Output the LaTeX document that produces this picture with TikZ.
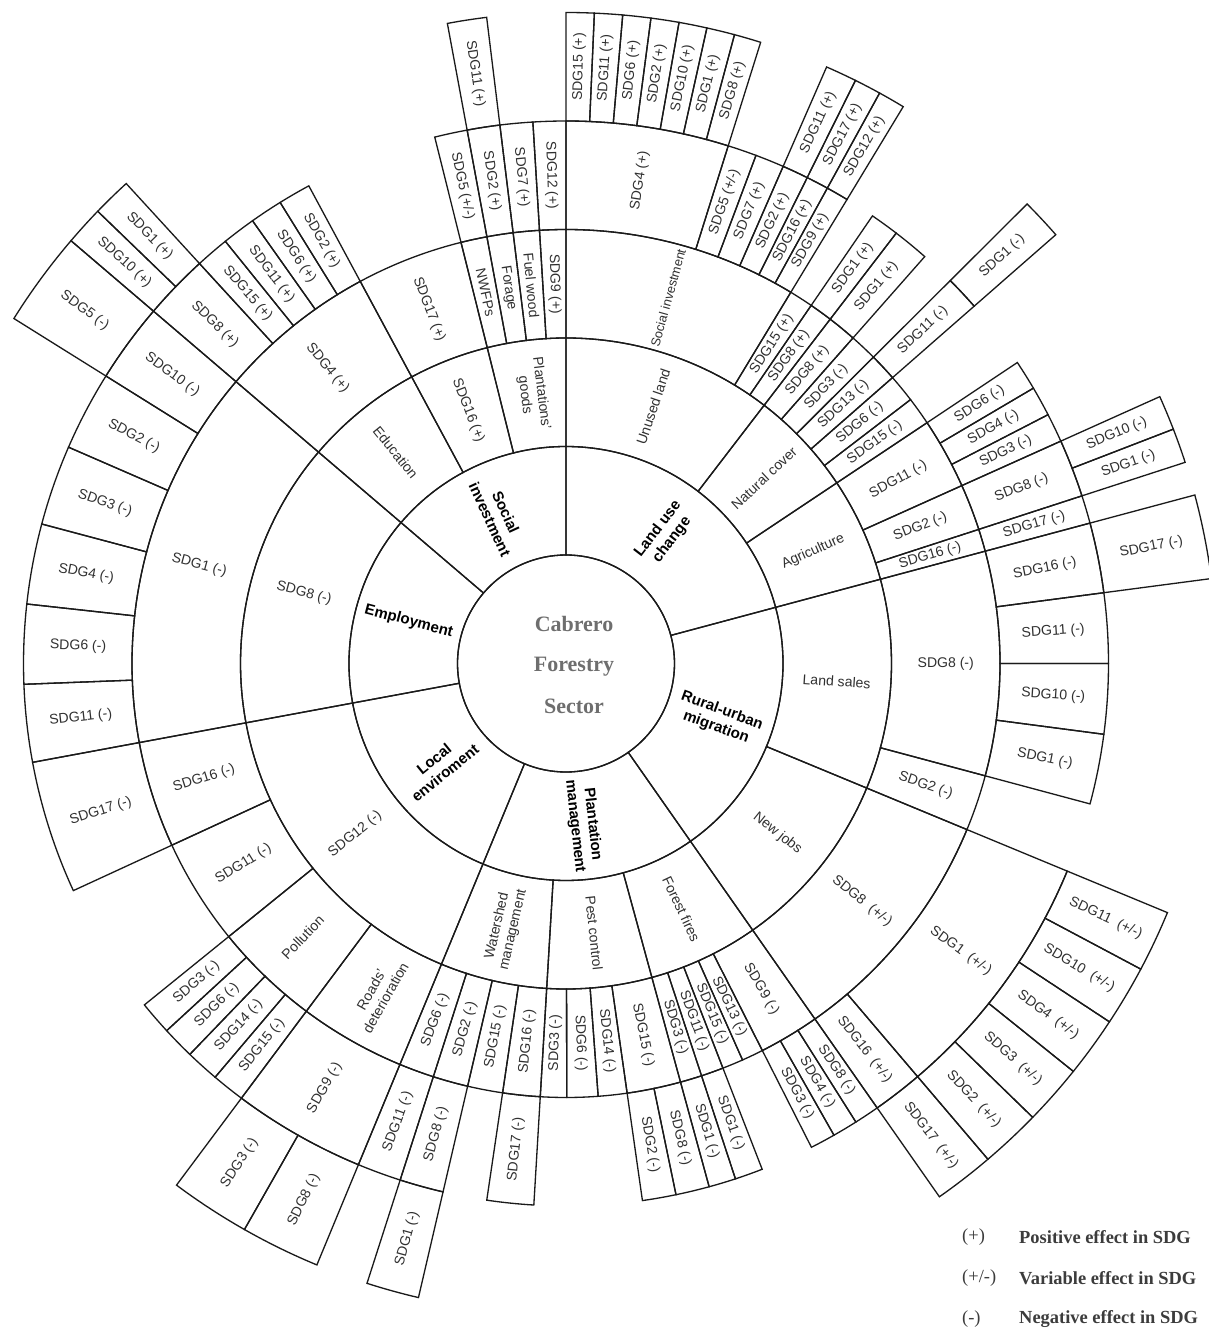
\documentclass[tikz,border=0pt]{standalone}
\usepackage{fontspec}
\setmainfont{Liberation Sans}
\newfontfamily\serifface{Liberation Serif}
\usepackage{tikz}
\definecolor{RingInk}{HTML}{1A1A1A}
\definecolor{LabelInk}{HTML}{303030}
\definecolor{CoreInk}{HTML}{6E6E6E}
\definecolor{KeyInk}{HTML}{3C3C3C}
\tikzset{
  wheel/.style={x=0.02cm,y=0.02cm,font=\fontsize{8}{9.4}\selectfont,text=LabelInk},
  ringline/.style={draw=RingInk,line width=0.75pt},
  sdg/.style={inner sep=0pt,align=center},
  narrow/.style={sdg,font=\fontsize{7.3}{8.6}\selectfont},
  topic/.style={sdg,font=\fontsize{8.6}{10}\selectfont\bfseries,text=black},
  core/.style={font=\fontsize{12.5}{14}\selectfont\serifface\bfseries,text=CoreInk},
  keysym/.style={font=\fontsize{10.5}{12}\selectfont\serifface,text=KeyInk,anchor=west},
  keytext/.style={keysym,font=\fontsize{10.5}{12}\selectfont\serifface\bfseries},
}
\newcounter{cellno}
\newcommand\sdgcell[5][sdg]{%
  \pgfmathsetmacro\cellri{108.5*#2}%
  \pgfmathsetmacro\cellro{108.5*(#2+1)}%
  \pgfmathsetmacro\cellrm{108.5*(#2+0.5)}%
  \pgfmathsetmacro\cellam{(#3+#4)/2}%
  \pgfmathsetmacro\cellrot{cos(\cellam)<0 ? \cellam+180 : \cellam}%
  \stepcounter{cellno}%
  \draw[ringline] (#3:\cellri) arc[start angle=#3,end angle=#4,radius=\cellri]
    -- (#4:\cellro) arc[start angle=#4,end angle=#3,radius=\cellro] -- cycle;
  \node[#1,rotate=\cellrot] (cell\arabic{cellno}) at (\cellam:\cellrm) {#5};
}

\begin{document}
\begin{tikzpicture}[wheel]
  \useasboundingbox (-566,-665.5) rectangle (642,663.5);

  \draw[ringline] (0,0) circle[radius=108.5];
  \node[core] (cabrero) at (8,40) {Cabrero};
  \node[core] (forestry) at (8,-3) {Forestry};
  \node[core] (sector) at (8,-43) {Sector};

  \sdgcell[topic]{1}{90}{139.5}{Social\\investment}
  \sdgcell[topic]{1}{15}{90}{Land use\\change}
  \sdgcell[topic]{1}{-55}{15}{Rural-urban\\migration}
  \sdgcell[topic]{1}{-112.5}{-55}{Plantation\\management}
  \sdgcell[topic]{1}{-169.5}{-112.5}{Local\\enviroment}
  \sdgcell[topic]{1}{139.5}{190.5}{Employment}

  \sdgcell{2}{90}{104}{Plantations'\\goods}
  \sdgcell{2}{104}{118.3}{SDG16 (+)}
  \sdgcell{2}{118.3}{139.5}{Education}
  \sdgcell{2}{52.5}{90}{Unused land}
  \sdgcell{2}{33.7}{52.5}{Natural cover}
  \sdgcell{2}{15}{33.7}{Agriculture}
  \sdgcell{2}{-22.5}{15}{Land sales}
  \sdgcell{2}{-55}{-22.5}{New jobs}
  \sdgcell{2}{-74.7}{-55}{Forest fires}
  \sdgcell{2}{-93.4}{-74.7}{Pest control}
  \sdgcell{2}{-112.5}{-93.4}{Watershed\\management}
  \sdgcell{2}{-169.5}{-112.5}{SDG12 (-)}
  \sdgcell{2}{139.5}{190.5}{SDG8 (-)}

  \sdgcell{3}{90}{93.5}{SDG9 (+)}
  \sdgcell{3}{93.5}{97}{Fuel wood}
  \sdgcell{3}{97}{100.5}{Forage}
  \sdgcell{3}{100.5}{104}{NWFPs}
  \sdgcell{3}{104}{118.3}{SDG17 (+)}
  \sdgcell{3}{118.3}{139.5}{SDG4 (+)}
  \sdgcell{3}{139.5}{190.5}{SDG1 (-)}
  \sdgcell[narrow]{3}{58.8}{90}{Social investment}
  \sdgcell{3}{55.6}{58.8}{SDG15 (+)}
  \sdgcell{3}{52.5}{55.6}{SDG8 (+)}
  \sdgcell{3}{48.6}{52.5}{SDG8 (+)}
  \sdgcell{3}{44.9}{48.6}{SDG3 (-)}
  \sdgcell{3}{41.2}{44.9}{SDG13 (-)}
  \sdgcell{3}{37.45}{41.2}{SDG6 (-)}
  \sdgcell{3}{33.7}{37.45}{SDG15 (-)}
  \sdgcell{3}{24.2}{33.7}{SDG11 (-)}
  \sdgcell{3}{18}{24.2}{SDG2 (-)}
  \sdgcell{3}{15}{18}{SDG16 (-)}
  \sdgcell{3}{-15}{15}{SDG8 (-)}
  \sdgcell{3}{-22.5}{-15}{SDG2 (-)}
  \sdgcell{3}{-55}{-22.5}{SDG8~~(+/-)}
  \sdgcell{3}{-63.1}{-55}{SDG9 (-)}
  \sdgcell{3}{-66}{-63.1}{SDG13 (-)}
  \sdgcell{3}{-68.8}{-66}{SDG15 (-)}
  \sdgcell{3}{-71.8}{-68.8}{SDG11 (-)}
  \sdgcell{3}{-74.7}{-71.8}{SDG3 (-)}
  \sdgcell{3}{-81.9}{-74.7}{SDG15 (-)}
  \sdgcell{3}{-85.75}{-81.9}{SDG14 (-)}
  \sdgcell{3}{-89.9}{-85.75}{SDG6 (-)}
  \sdgcell{3}{-93.4}{-89.9}{SDG3 (-)}
  \sdgcell{3}{-98.4}{-93.4}{SDG16 (-)}
  \sdgcell{3}{-103.1}{-98.4}{SDG15 (-)}
  \sdgcell{3}{-107.8}{-103.1}{SDG2 (-)}
  \sdgcell{3}{-112.5}{-107.8}{SDG6 (-)}
  \sdgcell{3}{-126.75}{-112.5}{Roads'\\deterioration}
  \sdgcell{3}{-141}{-126.75}{Pollution}
  \sdgcell{3}{-155.25}{-141}{SDG11 (-)}
  \sdgcell{3}{-169.5}{-155.25}{SDG16 (-)}

  \sdgcell{4}{90}{93.5}{SDG12 (+)}
  \sdgcell{4}{93.5}{97}{SDG7 (+)}
  \sdgcell{4}{97}{100.5}{SDG2 (+)}
  \sdgcell{4}{100.5}{104}{SDG5 (+/-)}
  \sdgcell{4}{118.3}{121.8}{SDG2 (+)}
  \sdgcell{4}{121.8}{125.3}{SDG6 (+)}
  \sdgcell{4}{125.3}{128.9}{SDG11 (+)}
  \sdgcell{4}{128.9}{132.5}{SDG15 (+)}
  \sdgcell{4}{132.5}{139.5}{SDG8 (+)}
  \sdgcell{4}{139.5}{148}{SDG10 (-)}
  \sdgcell{4}{148}{156.5}{SDG2 (-)}
  \sdgcell{4}{156.5}{165.1}{SDG3 (-)}
  \sdgcell{4}{165.1}{173.7}{SDG4 (-)}
  \sdgcell{4}{173.7}{182.2}{SDG6 (-)}
  \sdgcell{4}{182.2}{190.5}{SDG11 (-)}
  \sdgcell{4}{72.6}{90}{SDG4 (+)}
  \sdgcell{4}{69.5}{72.6}{SDG5 (+/-)}
  \sdgcell{4}{66.4}{69.5}{SDG7 (+)}
  \sdgcell{4}{63.6}{66.4}{SDG2 (+)}
  \sdgcell{4}{61.2}{63.6}{SDG16 (+)}
  \sdgcell{4}{58.8}{61.2}{SDG9 (+)}
  \sdgcell{4}{52.5}{55.6}{SDG1 (+)}
  \sdgcell{4}{48.6}{52.5}{SDG1 (+)}
  \sdgcell{4}{41.2}{44.9}{SDG11 (-)}
  \sdgcell{4}{30.5}{33.7}{SDG6 (-)}
  \sdgcell{4}{27.3}{30.5}{SDG4 (-)}
  \sdgcell{4}{24.2}{27.3}{SDG3 (-)}
  \sdgcell{4}{18}{24.2}{SDG8 (-)}
  \sdgcell{4}{15}{18}{SDG17 (-)}
  \sdgcell{4}{7.5}{15}{SDG16 (-)}
  \sdgcell{4}{0}{7.5}{SDG11 (-)}
  \sdgcell{4}{-7.5}{0}{SDG10 (-)}
  \sdgcell{4}{-15}{-7.5}{SDG1 (-)}
  \sdgcell{4}{-49.6}{-22.5}{SDG1~~(+/-)}
  \sdgcell{4}{-55}{-49.6}{SDG16~~(+/-)}
  \sdgcell{4}{-57.7}{-55}{SDG8 (-)}
  \sdgcell{4}{-60.4}{-57.7}{SDG4 (-)}
  \sdgcell{4}{-63.1}{-60.4}{SDG3 (-)}
  \sdgcell{4}{-71.8}{-68.8}{SDG1 (-)}
  \sdgcell{4}{-74.7}{-71.8}{SDG1 (-)}
  \sdgcell{4}{-78.3}{-74.7}{SDG8 (-)}
  \sdgcell{4}{-81.9}{-78.3}{SDG2 (-)}
  \sdgcell{4}{-98.4}{-93.4}{SDG17 (-)}
  \sdgcell{4}{-107.8}{-103.1}{SDG8 (-)}
  \sdgcell{4}{-112.5}{-107.8}{SDG11 (-)}
  \sdgcell{4}{-126.75}{-112.5}{SDG9 (-)}
  \sdgcell{4}{-130.3}{-126.75}{SDG15 (-)}
  \sdgcell{4}{-133.9}{-130.3}{SDG14 (-)}
  \sdgcell{4}{-137.4}{-133.9}{SDG6 (-)}
  \sdgcell{4}{-141}{-137.4}{SDG3 (-)}
  \sdgcell{4}{-169.5}{-155.25}{SDG17 (-)}

  \sdgcell{5}{97}{100.5}{SDG11 (+)}
  \sdgcell{5}{132.5}{136}{SDG1 (+)}
  \sdgcell{5}{136}{139.5}{SDG10 (+)}
  \sdgcell{5}{139.5}{148}{SDG5 (-)}
  \sdgcell{5}{87.5}{90}{SDG15 (+)}
  \sdgcell{5}{85}{87.5}{SDG11 (+)}
  \sdgcell{5}{82.5}{85}{SDG6 (+)}
  \sdgcell{5}{80}{82.5}{SDG2 (+)}
  \sdgcell{5}{77.5}{80}{SDG10 (+)}
  \sdgcell{5}{75}{77.5}{SDG1 (+)}
  \sdgcell{5}{72.6}{75}{SDG8 (+)}
  \sdgcell{5}{63.6}{66.4}{SDG11 (+)}
  \sdgcell{5}{61.2}{63.6}{SDG17 (+)}
  \sdgcell{5}{58.8}{61.2}{SDG12 (+)}
  \sdgcell{5}{41.2}{44.9}{SDG1 (-)}
  \sdgcell{5}{21.1}{24.2}{SDG10 (-)}
  \sdgcell{5}{18}{21.1}{SDG1 (-)}
  \sdgcell{5}{7.5}{15}{SDG17 (-)}
  \sdgcell{5}{-28}{-22.5}{SDG11~~(+/-)}
  \sdgcell{5}{-33.4}{-28}{SDG10~~(+/-)}
  \sdgcell{5}{-38.8}{-33.4}{SDG4~~(+/-)}
  \sdgcell{5}{-44.2}{-38.8}{SDG3~~(+/-)}
  \sdgcell{5}{-49.6}{-44.2}{SDG2~~(+/-)}
  \sdgcell{5}{-55}{-49.6}{SDG17~~(+/-)}
  \sdgcell{5}{-107.8}{-103.1}{SDG1 (-)}
  \sdgcell{5}{-126.75}{-119.6}{SDG3 (-)}
  \sdgcell{5}{-119.6}{-112.5}{SDG8 (-)}

  \node[keysym] (keypos) at (390,-573.5) {(+)};
  \node[keytext] (keypostext) at (447,-573.5) {Positive effect in SDG};
  \node[keysym] (keyvar) at (390,-614.5) {(+/-)};
  \node[keytext] (keyvartext) at (447,-614.5) {Variable effect in SDG};
  \node[keysym] (keyneg) at (390,-655.5) {(-)};
  \node[keytext] (keynegtext) at (447,-655.5) {Negative effect in SDG};
\end{tikzpicture}
\end{document}
